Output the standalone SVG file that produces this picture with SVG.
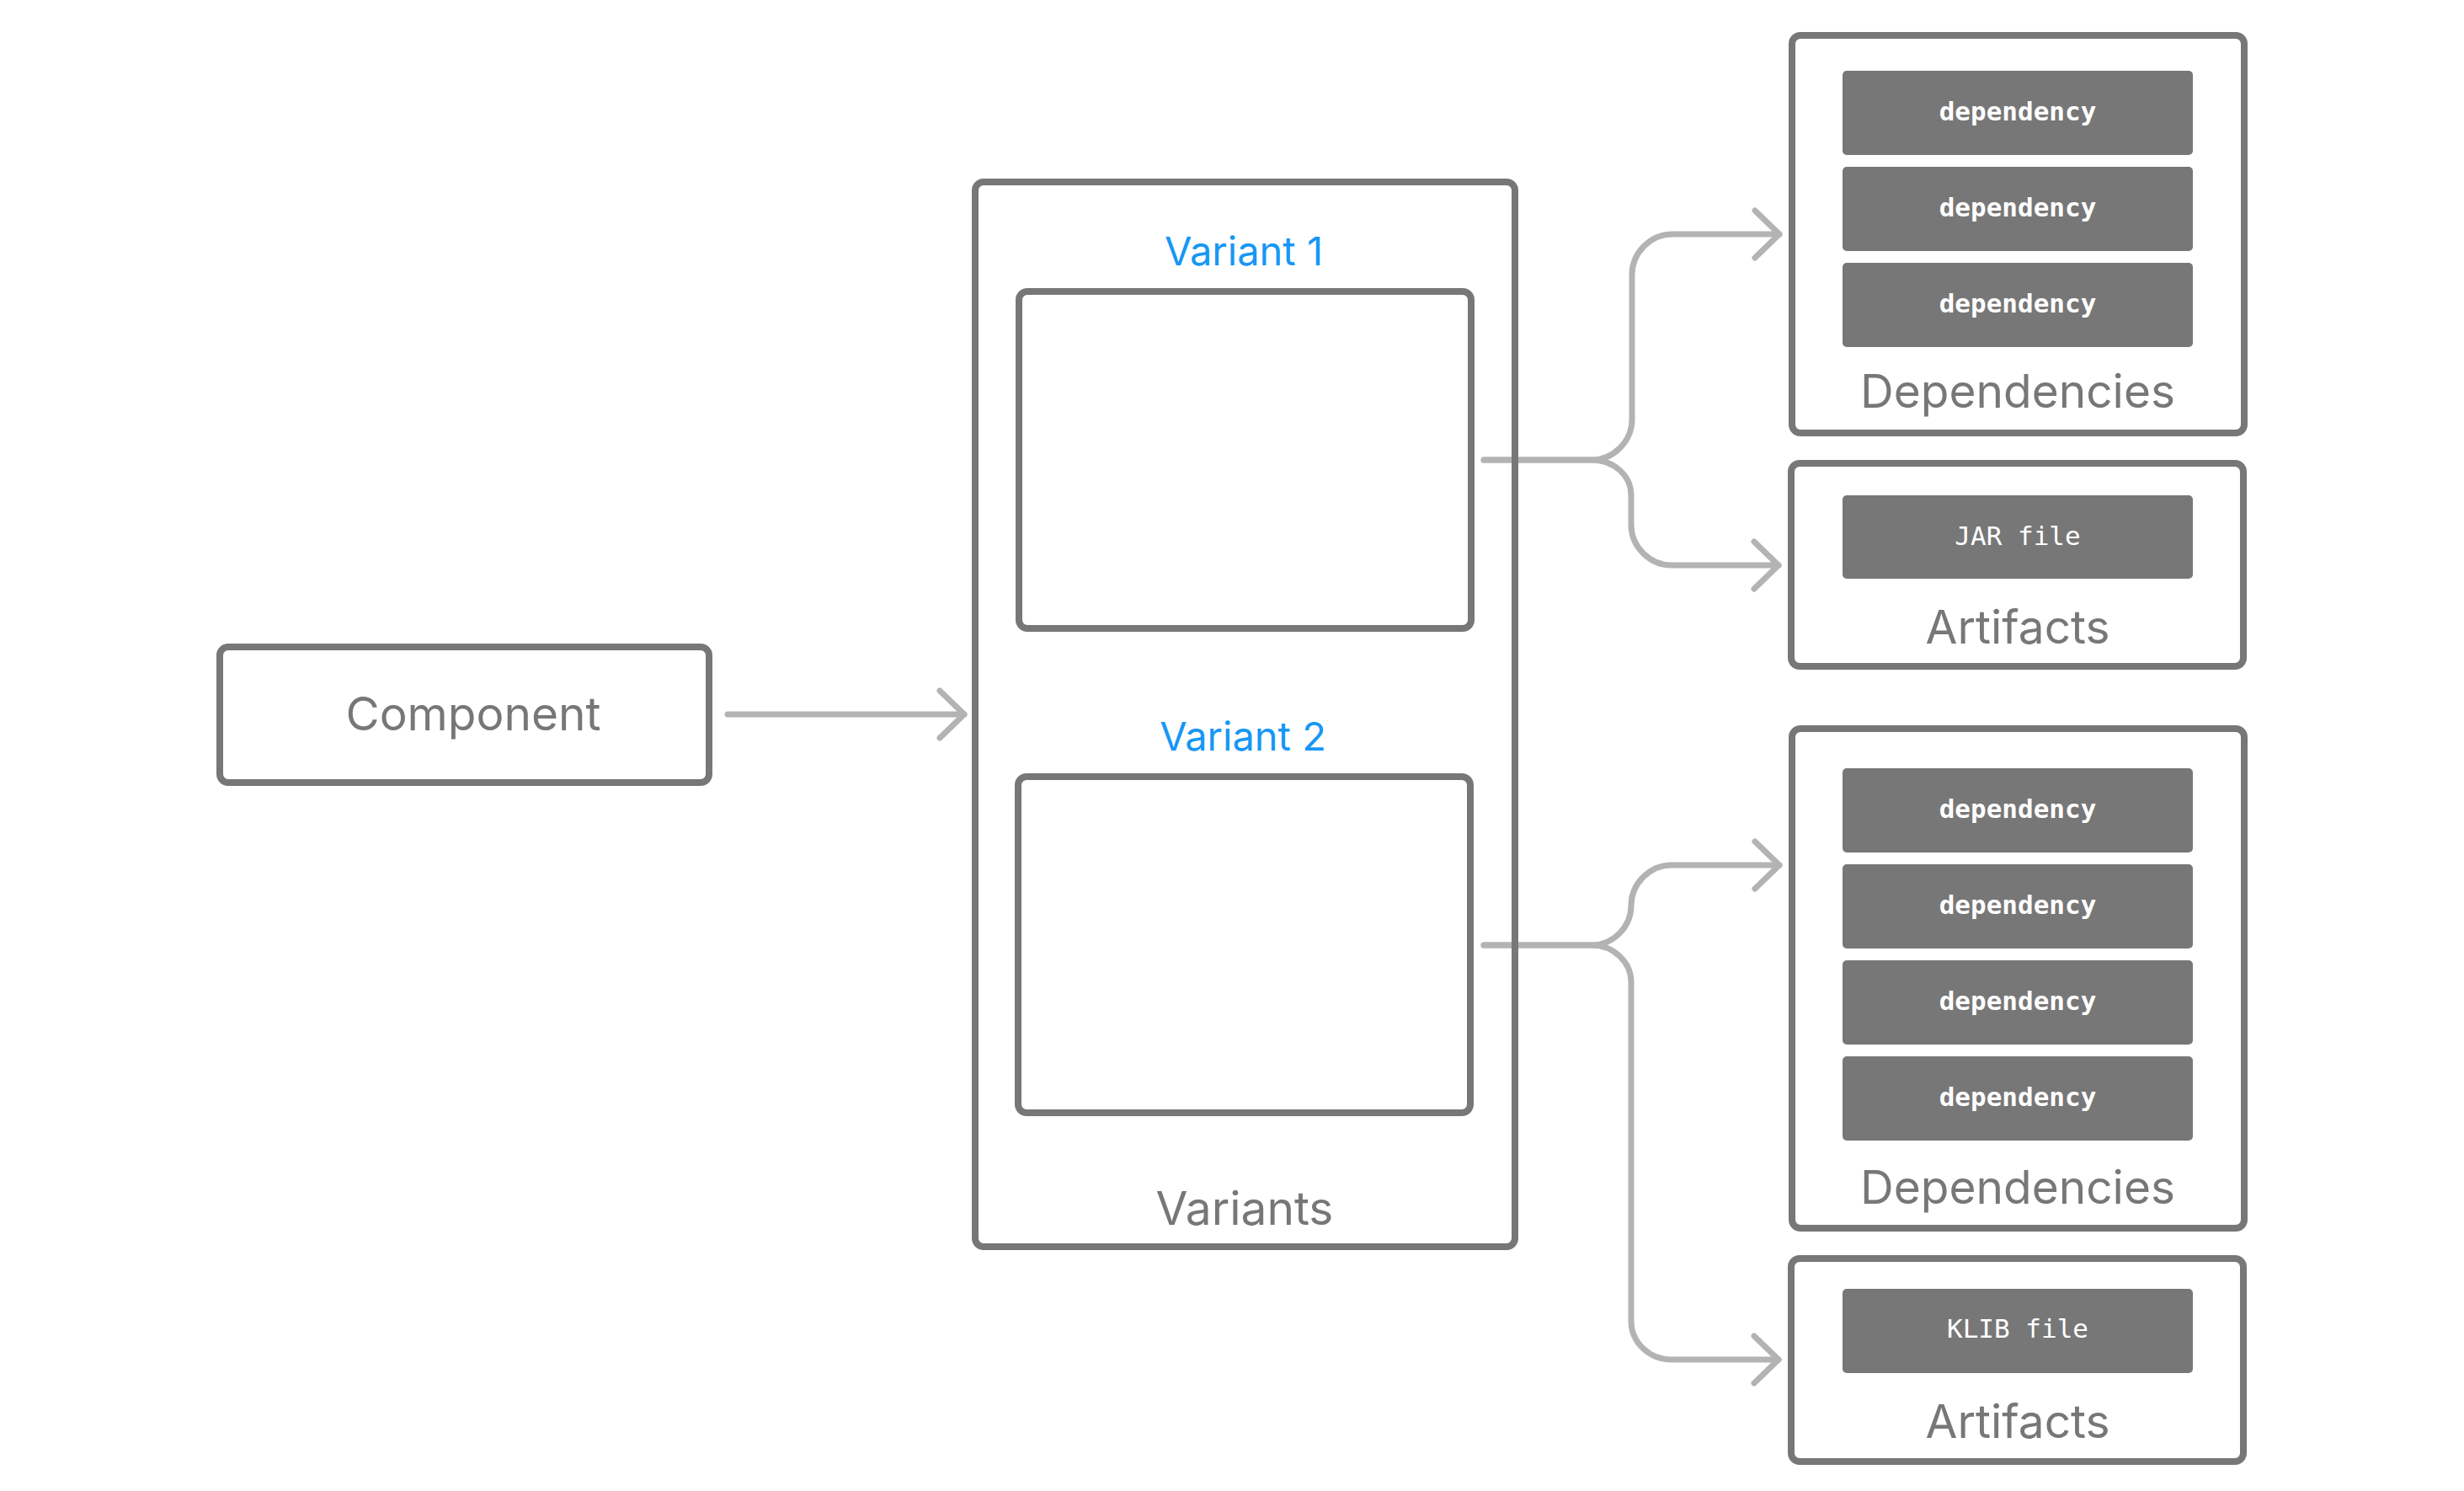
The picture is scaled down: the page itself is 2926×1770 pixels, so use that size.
<svg xmlns="http://www.w3.org/2000/svg" width="2926" height="1770" viewBox="0 0 2926 1770">
  <defs>
    <style>
      .box { fill: none; stroke: #777777; stroke-width: 8; }
      .pill { fill: #777777; }
      .conn { fill: none; stroke: #b3b3b3; stroke-width: 7; stroke-linecap: round; stroke-linejoin: round; }
      .lbl { font-family: Inter, "Liberation Sans", sans-serif; fill: #777777; text-anchor: middle; }
      .big { font-size: 55px; }
      .var { font-family: Inter, "Liberation Sans", sans-serif; fill: #1797f5; text-anchor: middle; font-size: 47px; }
      .mono { font-family: "DejaVu Sans Mono", "Liberation Mono", monospace; fill: #ffffff; text-anchor: middle; font-size: 31px; }
      .dep { font-weight: bold; }
    </style>
    <marker id="chev" markerUnits="userSpaceOnUse" viewBox="0 0 44 64" refX="36" refY="32" markerWidth="44" markerHeight="64" orient="auto">
      <path d="M7,4 L36,32 L7,60" fill="none" stroke="#b3b3b3" stroke-width="7" stroke-linecap="round" stroke-linejoin="round"/>
    </marker>
  </defs>
  <rect width="2926" height="1770" fill="#ffffff"/>

  <g id="connectors">
    <path class="conn" d="M864,848 H1145" marker-end="url(#chev)"/>
    <path class="conn" d="M1762,546 H1890 C1916,546 1938,524 1938,498 V326 C1938,300 1960,278 1986,278 H2113" marker-end="url(#chev)"/>
    <path class="conn" d="M1762,546 H1890 C1916,546 1937,564 1937,588 V623 C1937,649 1959,671 1985,671 H2112" marker-end="url(#chev)"/>
    <path class="conn" d="M1762,1122 H1890 C1916,1122 1937,1100 1937,1075 C1937,1049 1959,1027 1985,1027 H2113" marker-end="url(#chev)"/>
    <path class="conn" d="M1762,1122 H1890 C1916,1122 1937,1142 1937,1166 V1568 C1937,1594 1959,1614 1985,1614 H2112" marker-end="url(#chev)"/>
  </g>

  <g id="component">
    <rect class="box" x="261" y="768" width="581" height="161" rx="10"/>
    <text class="lbl big" x="562" y="867">Component</text>
  </g>

  <g id="variants">
    <rect class="box" x="1158" y="216" width="641" height="1264" rx="10"/>
    <text class="lbl big" x="1478" y="1454">Variants</text>
  </g>

  <g id="variant1">
    <text class="var" x="1477" y="315">Variant 1</text>
    <rect class="box" x="1210" y="346" width="537" height="400" rx="10"/>
  </g>

  <g id="variant2">
    <text class="var" x="1476" y="891">Variant 2</text>
    <rect class="box" x="1209" y="922" width="537" height="399" rx="10"/>
  </g>

  <g id="dependencies1">
    <rect class="box" x="2128" y="42" width="537" height="472" rx="10"/>
    <rect class="pill" x="2188" y="84" width="416" height="100" rx="5"/>
    <text class="mono dep" x="2396" y="143">dependency</text>
    <rect class="pill" x="2188" y="198" width="416" height="100" rx="5"/>
    <text class="mono dep" x="2396" y="257">dependency</text>
    <rect class="pill" x="2188" y="312" width="416" height="100" rx="5"/>
    <text class="mono dep" x="2396" y="371">dependency</text>
    <text class="lbl big" x="2396" y="484">Dependencies</text>
  </g>

  <g id="artifacts1">
    <rect class="box" x="2127" y="550" width="537" height="241" rx="10"/>
    <rect class="pill" x="2188" y="588" width="416" height="99" rx="5"/>
    <text class="mono" x="2396" y="647">JAR file</text>
    <text class="lbl big" x="2396" y="764">Artifacts</text>
  </g>

  <g id="dependencies2">
    <rect class="box" x="2128" y="865" width="537" height="593" rx="10"/>
    <rect class="pill" x="2188" y="912" width="416" height="100" rx="5"/>
    <text class="mono dep" x="2396" y="971">dependency</text>
    <rect class="pill" x="2188" y="1026" width="416" height="100" rx="5"/>
    <text class="mono dep" x="2396" y="1085">dependency</text>
    <rect class="pill" x="2188" y="1140" width="416" height="100" rx="5"/>
    <text class="mono dep" x="2396" y="1199">dependency</text>
    <rect class="pill" x="2188" y="1254" width="416" height="100" rx="5"/>
    <text class="mono dep" x="2396" y="1313">dependency</text>
    <text class="lbl big" x="2396" y="1429">Dependencies</text>
  </g>

  <g id="artifacts2">
    <rect class="box" x="2127" y="1494" width="537" height="241" rx="10"/>
    <rect class="pill" x="2188" y="1530" width="416" height="100" rx="5"/>
    <text class="mono" x="2396" y="1588">KLIB file</text>
    <text class="lbl big" x="2396" y="1707">Artifacts</text>
  </g>
</svg>
